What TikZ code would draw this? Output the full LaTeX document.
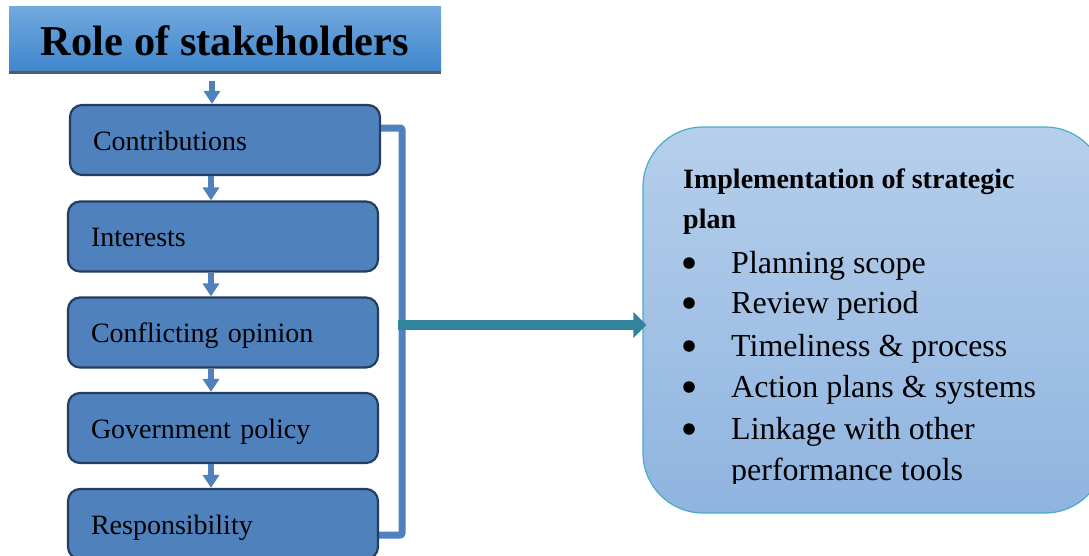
\documentclass[tikz,border=0pt]{standalone}
\usepackage{fontspec}
\setmainfont{Liberation Serif}
\usetikzlibrary{arrows.meta,calc}
\pgfdeclarelayer{behind}
\pgfsetlayers{behind,main}
\definecolor{boxfill}{HTML}{4F81BD}
\definecolor{boxborder}{HTML}{233E5F}
\definecolor{titletop}{HTML}{72A9DE}
\definecolor{titlebot}{HTML}{3F86CD}
\definecolor{titleedge}{HTML}{5A5A5A}
\definecolor{bracketcol}{HTML}{4F81BD}
\definecolor{tealarrow}{HTML}{31849B}
\definecolor{impltop}{HTML}{B6CFEB}
\definecolor{implbot}{HTML}{8FB4E0}
\definecolor{implborder}{HTML}{4BACC6}
\begin{document}
\begin{tikzpicture}[x=1pt,y=-1pt,
  titlebox/.style={minimum width=432pt, minimum height=65pt, inner sep=0pt,
    top color=titletop, bottom color=titlebot,
    font=\bfseries\fontsize{42.5pt}{50pt}\selectfont, text height=33pt, text depth=0pt},
  stakebox/.style={draw=boxborder, line width=2.2pt, fill=boxfill, rounded corners=12pt,
    minimum width=310pt, minimum height=70pt, text width=264pt, align=left,
    inner xsep=23pt, inner ysep=0pt,
    font=\fontsize{28pt}{34pt}\selectfont, text height=22pt, text depth=2pt},
  smallarr/.style={draw=boxfill, line width=6pt, -{Triangle[width=16pt,length=13pt]}},
  bracketline/.style={draw=bracketcol, line width=7pt, rounded corners=2pt},
  bigarr/.style={draw=tealarrow, line width=10pt, -{Triangle[width=25pt,length=13pt]}},
  implbox/.style={draw=implborder, line width=1.2pt, rounded corners=60pt,
    top color=impltop, bottom color=implbot,
    minimum width=462pt, minimum height=386pt},
  hdtext/.style={anchor=base west, inner sep=0pt, font=\bfseries\fontsize{28pt}{34pt}\selectfont},
  itemtext/.style={anchor=base west, inner sep=0pt, font=\fontsize{32pt}{40pt}\selectfont},
  bulletdot/.style={circle, fill=black, inner sep=0pt, minimum size=11.5pt}
]
\useasboundingbox (0,0) rectangle (1089,555);
\clip (0,0) rectangle (1089,555);
\begin{pgfonlayer}{behind}
\fill[white] (0,0) rectangle (1089,555);
\end{pgfonlayer}

% title
\node[titlebox] (title) at (225,38.5) {Role of stakeholders};
\draw[titleedge, line width=3pt] ([yshift=-1.5pt]title.south west) -- ([yshift=-1.5pt]title.south east);

% coordinates for connector columns
\coordinate (tx) at (212,0);
\coordinate (ax) at (211,0);
\coordinate (bx) at (402,0);
\coordinate (ms) at (398,325);

% stakeholder boxes
\node[stakebox] (b1) at (225,140) {Contributions};
\node[stakebox] (b2) at (223,236.5) {Interests};
\node[stakebox] (b3) at (223,332.5) {Conflicting opinion};
\node[stakebox] (b4) at (223,428) {Government policy};
\node[stakebox] (b5) at (223,524) {Responsibility};

% bracket (behind the boxes)
\begin{pgfonlayer}{behind}
\draw[bracketline] ([yshift=12pt]b1.east) -- ([yshift=12pt]b1.east -| bx)
  -- ([yshift=-11pt]b5.east -| bx) -- ([yshift=-11pt]b5.east);
\end{pgfonlayer}

% arrows
\draw[smallarr] ([yshift=-10pt]title.south -| tx) -- (b1.north -| tx);
\draw[smallarr] (b1.south -| ax) -- (b2.north -| ax);
\draw[smallarr] (b2.south -| ax) -- (b3.north -| ax);
\draw[smallarr] (b3.south -| ax) -- (b4.north -| ax);
\draw[smallarr] (b4.south -| ax) -- (b5.north -| ax);

% implementation box
\node[implbox] (impl) at (874,320) {};
\draw[bigarr] (ms) -- ($(ms -| impl.west)+(4,0)$);

\node[hdtext] (h1) at (683,188) {Implementation of strategic};
\node[hdtext] (h2) at (683,228) {plan};
\node[itemtext] (i1) at (731,273) {Planning scope};
\node[itemtext] (i2) at (731,313) {Review period};
\node[itemtext] (i3) at (731,356) {Timeliness \& process};
\node[itemtext] (i4) at (731,397) {Action plans \& systems};
\node[itemtext] (i5) at (731,439) {Linkage with other};
\foreach \n/\y in {1/273,2/313,3/356,4/397,5/439}{
  \node[bulletdot] (d\n) at (689,\y-10) {};
}
\begin{scope}
\clip (640,127) rectangle (1089,483);
\node[itemtext] (i6) at (731,480) {performance tools};
\end{scope}
\end{tikzpicture}
\end{document}
